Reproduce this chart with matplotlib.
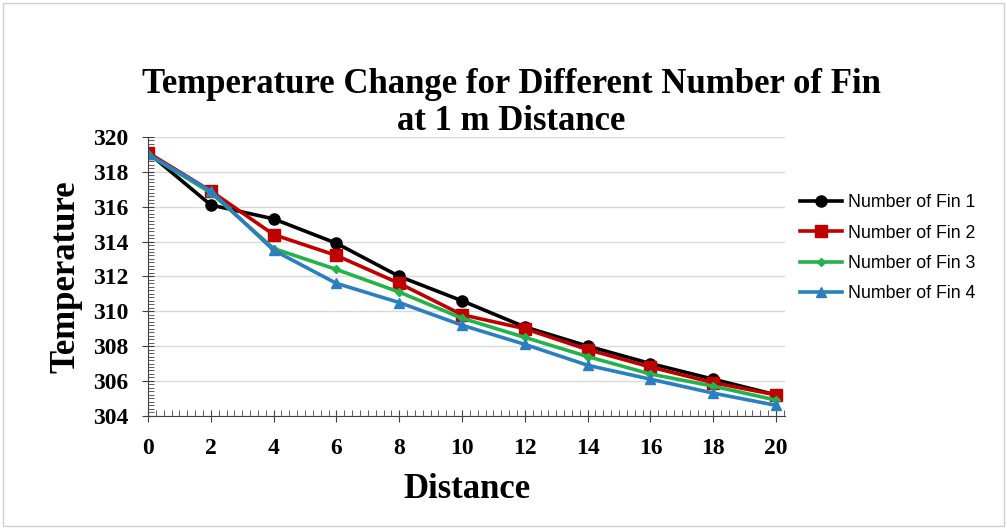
import matplotlib

matplotlib.use("Agg")
import matplotlib.pyplot as plt
from matplotlib.ticker import MultipleLocator

distance = [0, 2, 4, 6, 8, 10, 12, 14, 16, 18, 20]
fin1 = [319.1, 316.1, 315.3, 313.9, 312.0, 310.6, 309.1, 308.0, 307.0, 306.1, 305.2]
fin2 = [319.1, 316.9, 314.4, 313.2, 311.6, 309.8, 309.0, 307.8, 306.8, 305.9, 305.2]
fin3 = [319.0, 316.8, 313.6, 312.4, 311.1, 309.6, 308.5, 307.4, 306.4, 305.7, 304.9]
fin4 = [319.0, 316.9, 313.5, 311.6, 310.5, 309.2, 308.1, 306.9, 306.1, 305.3, 304.6]
labels = ["Number of Fin 1", "Number of Fin 2", "Number of Fin 3", "Number of Fin 4"]

colors = ["#000000", "#c00000", "#24b24b", "#2a7fc1"]
markers = ["o", "s", "D", "^"]
msizes = [8, 8, 4.5, 7]

serif = ["Liberation Serif", "DejaVu Serif"]

fig = plt.figure(figsize=(10.07, 5.29), dpi=100)
ax = fig.add_axes([0.147, 0.214, 0.633, 0.527])

for ys, c, m, ms, lab in zip([fin1, fin2, fin3, fin4], colors, markers, msizes, labels):
    ax.plot(distance, ys, color=c, marker=m, markersize=ms, lw=2.6, label=lab)

ax.set_xlim(0, 20.3)
ax.set_ylim(304, 320)
ax.xaxis.set_major_locator(MultipleLocator(2))
ax.xaxis.set_minor_locator(MultipleLocator(0.25))
ax.yaxis.set_major_locator(MultipleLocator(2))
ax.yaxis.set_minor_locator(MultipleLocator(0.2))
ax.grid(axis="y", which="major", color="#d9d9d9", lw=1)
ax.set_axisbelow(True)
for s in ["top", "right"]:
    ax.spines[s].set_visible(False)
ax.spines["left"].set_color("#404040")
ax.spines["bottom"].set_color("#404040")
ax.tick_params(which="major", direction="inout", length=8, color="#404040")
ax.tick_params(axis="x", which="major", pad=12)
ax.tick_params(axis="y", which="major", pad=10)
ax.tick_params(which="minor", direction="in", length=4, color="#404040")
for t in ax.get_xticklabels() + ax.get_yticklabels():
    t.set_fontfamily(serif)
    t.set_fontweight("bold")
    t.set_fontsize(17)

ax.set_xlabel("Distance", fontfamily=serif, fontweight="bold", fontsize=25, labelpad=10)
ax.set_ylabel("Temperature", fontfamily=serif, fontweight="bold", fontsize=25, labelpad=8)
fig.text(0.508, 0.806, "Temperature Change for Different Number of Fin\nat 1 m Distance",
         ha="center", va="center", fontfamily=serif, fontweight="bold", fontsize=25,
         linespacing=1.17)

ax.legend(loc="upper left", bbox_to_anchor=(0.997, 0.852), frameon=False,
          prop={"family": ["Liberation Sans", "DejaVu Sans"], "size": 12.8},
          handlelength=2.4, handletextpad=0.3, labelspacing=0.75)

fig.patches.append(plt.Rectangle((0.003, 0.005), 0.994, 0.99, transform=fig.transFigure,
                                 fill=False, ec="#d0d0d0", lw=1))
fig.savefig("out.png", dpi=100)
